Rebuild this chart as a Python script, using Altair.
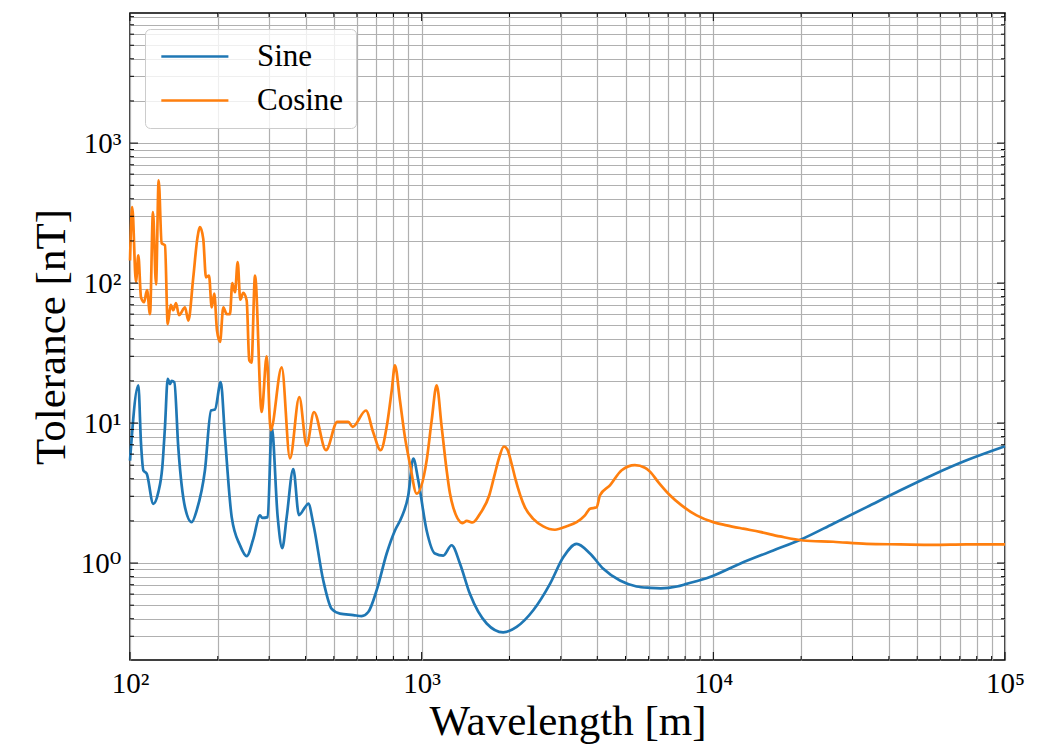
import altair as alt
import pandas as pd

FONT = "'Liberation Serif', 'DejaVu Serif', serif"

sine_wavelength = [100, 106.8, 109.1, 111.1, 114.1, 120.2, 125.0, 129.0, 131.8, 134.7,
                   137.1, 139.0, 141.9, 146.4, 154.4, 162.7, 169.3, 180.7, 189.6, 195.6,
                   204.7, 211.7, 223.2, 238.3, 251.2, 264.7, 279.1, 284.1, 296.6, 306.1,
                   320.9, 332.7, 344.5, 362.9, 379.6, 398.0, 408.6, 425.0, 459.9, 491.5,
                   524.8, 582.8, 622.8, 656.1, 701.1, 758.6, 809.9, 854.0, 899.8, 936.0,
                   973.4, 1040, 1110.5, 1185.7, 1267, 1353.3, 1464.5, 1670.5, 1904, 2117,
                   2413, 2754, 3058, 3399, 3776, 4195, 4785, 5458, 6063, 6600,
                   7500, 8099, 9736, 12337, 16049, 20078, 25767, 33547, 43627, 56740,
                   73858, 100000]
sine_tolerance = [5.4, 18.6, 7.1, 4.6, 4.35, 2.65, 3.2, 4.8, 9.4, 20.7,
                  19, 20, 19.6, 6.7, 2.5, 1.96, 2.38, 4.6, 12.3, 12.5,
                  19.6, 7.9, 2.13, 1.34, 1.12, 1.49, 2.19, 2.1, 2.13, 9.4,
                  2.13, 1.28, 2.13, 4.7, 2.2, 2.5, 2.66, 1.91, 0.75, 0.47,
                  0.435, 0.425, 0.418, 0.447, 0.64, 1.17, 1.71, 2.13, 3.05, 5.57,
                  3.9, 1.71, 1.17, 1.13, 1.34, 0.99, 0.6, 0.37, 0.32, 0.35,
                  0.46, 0.71, 1.1, 1.37, 1.17, 0.91, 0.75, 0.68, 0.665, 0.66,
                  0.68, 0.71, 0.795, 0.99, 1.23, 1.48, 1.91, 2.51, 3.3, 4.28,
                  5.42, 6.83]

cosine_wavelength = [100, 101.8, 104.8, 106.8, 109.1, 111.7, 114.4, 117.1, 119.9, 122.8,
                     125.4, 128.4, 131.8, 134.7, 137.9, 140.7, 143.8, 147.2, 154.4, 158.5,
                     164.8, 170.1, 173.8, 178.3, 182.2, 186.6, 190.6, 194.5, 198.7, 203.5,
                     208.9, 214.5, 220.2, 224.2, 229.1, 234.0, 238.8, 244.6, 251.2, 256.4,
                     261.0, 268.3, 282.8, 294.2, 303.7, 331.2, 353.6, 380.5, 403.4, 427.3,
                     469.8, 513.7, 560.2, 580.0, 644.2, 682.0, 723.5, 758.6, 789.5, 809.9,
                     842.5, 876.5, 911.8, 961.4, 1040, 1082, 1125.5, 1171, 1218, 1250,
                     1283, 1382.6, 1426.9, 1495.9, 1584.7, 1705.5, 1780, 1845, 1914.6, 1965,
                     2035, 2089, 2260, 2413, 2612, 2864, 3141, 3399, 3629, 3776,
                     3980, 4087, 4421, 4850, 5384, 5828, 6063, 6473, 7099, 7785,
                     8766, 9993, 11106, 12662, 14446, 16916, 20333, 25767, 33547, 43627,
                     56740, 73858, 100000]
cosine_tolerance = [145, 349, 102, 158, 79, 73, 89, 60, 321, 98,
                    542, 193, 186, 51, 70, 64, 72, 59, 67, 54,
                    110, 207, 251, 207, 110, 113, 67, 84, 46, 38,
                    67, 60, 60, 100, 86, 141, 76, 85, 75, 28,
                    27, 113, 12, 30, 8.9, 25, 5.6, 15.3, 6.9, 12,
                    6.4, 10.2, 10.2, 9.4, 12.3, 8.6, 6.4, 9.4, 17.1, 25.8,
                    14.5, 7.9, 5.1, 3.13, 5.4, 10.4, 18.6, 9.4, 4.6, 3.15,
                    2.5, 1.93, 2.0, 1.95, 2.25, 3.05, 4.3, 5.7, 6.8, 6.5,
                    5.1, 4.1, 2.5, 2.07, 1.83, 1.73, 1.83, 1.96, 2.19, 2.44,
                    2.5, 3.05, 3.59, 4.6, 5.0, 4.8, 4.5, 3.79, 3.05, 2.58,
                    2.19, 1.96, 1.86, 1.76, 1.67, 1.55, 1.45, 1.42, 1.37, 1.36,
                    1.35, 1.36, 1.36]

series_names = ["Sine", "Cosine"]
series_colors = ["#1f77b4", "#ff7f0e"]

x_domain = [100, 100000]
y_domain = [0.203, 8500]
x_major = [100, 1000, 10000, 100000]
x_minor = [m * 10 ** k for k in (2, 3, 4) for m in range(2, 10)]
y_major = [1, 10, 100, 1000]
y_minor = [round(m * 10.0 ** k, 6) for k in (-1, 0, 1, 2, 3) for m in range(2, 10)
           if y_domain[0] <= m * 10.0 ** k <= y_domain[1]]

W, H = 875, 647

df = pd.concat([
    pd.DataFrame({"wavelength": sine_wavelength, "tolerance": sine_tolerance, "series": "Sine"}),
    pd.DataFrame({"wavelength": cosine_wavelength, "tolerance": cosine_tolerance, "series": "Cosine"}),
], ignore_index=True)

xs = alt.Scale(type="log", domain=x_domain, nice=False)
ys = alt.Scale(type="log", domain=y_domain, nice=False)

x_label_expr = ("datum.value == 100 ? '10²' : datum.value == 1000 ? '10³' : "
                "datum.value == 10000 ? '10⁴' : datum.value == 100000 ? '10⁵' : ''")
y_label_expr = ("datum.value == 1 ? '10⁰' : datum.value == 10 ? '10¹' : "
                "datum.value == 100 ? '10²' : datum.value == 1000 ? '10³' : ''")

axis_common = dict(grid=True, gridColor="#b0b0b0", gridWidth=1.2, gridOpacity=1,
                   ticks=False, domain=False, labelFont=FONT, labelFontSize=29,
                   labelColor="black", labelOverlap=False, labelFlush=False,
                   titleFont=FONT, titleFontSize=43, titleFontWeight="normal",
                   titleColor="black")

x_axis = alt.Axis(values=sorted(x_major + x_minor), labelExpr=x_label_expr,
                  labelPadding=9, title="Wavelength [m]", titlePadding=2,
                  **axis_common)
y_axis = alt.Axis(values=sorted(y_major + y_minor), labelExpr=y_label_expr,
                  labelPadding=9, title="Tolerance [nT]", titlePadding=7,
                  **axis_common)

lines = alt.Chart(df).mark_line(strokeWidth=2.7, interpolate="monotone").encode(
    x=alt.X("wavelength:Q", scale=xs, axis=x_axis),
    y=alt.Y("tolerance:Q", scale=ys, axis=y_axis),
    color=alt.Color("series:N",
                    scale=alt.Scale(domain=series_names, range=series_colors),
                    legend=alt.Legend(title=None, orient="none", legendX=15, legendY=16,
                                      direction="vertical", symbolType="M-1,0H5",
                                      symbolSize=500, symbolStrokeWidth=2.7,
                                      labelFont=FONT, labelFontSize=31, labelColor="black",
                                      labelOffset=69, rowPadding=12, padding=12,
                                      strokeColor="#cccccc",
                                      fillColor="rgba(255,255,255,0.8)",
                                      cornerRadius=5)),
)


def xticks(vals, y0, y1):
    return alt.Chart(pd.DataFrame({"wavelength": vals})).mark_rule(
        color="black", strokeWidth=1).encode(
        x=alt.X("wavelength:Q", scale=xs, axis=x_axis), y=alt.value(y0), y2=alt.value(y1))


def yticks(vals, x0, x1):
    return alt.Chart(pd.DataFrame({"tolerance": vals})).mark_rule(
        color="black", strokeWidth=1).encode(
        y=alt.Y("tolerance:Q", scale=ys, axis=y_axis), x=alt.value(x0), x2=alt.value(x1))


tick_layers = [
    xticks(x_major, H, H - 8), xticks(x_minor, H, H - 4),
    xticks(x_major, 0, 8), xticks(x_minor, 0, 4),
    yticks(y_major, 0, 8), yticks(y_minor, 0, 4),
    yticks(y_major, W, W - 8), yticks(y_minor, W, W - 4),
]

chart = alt.layer(lines, *tick_layers).properties(
    width=W, height=H,
    autosize=alt.AutoSizeParams(type="none"),
    padding={"left": 122, "top": 5, "right": 30, "bottom": 90},
).configure_view(stroke="black", strokeWidth=1.5)

chart.save("out.html", embed_options={"renderer": "svg", "actions": False})
